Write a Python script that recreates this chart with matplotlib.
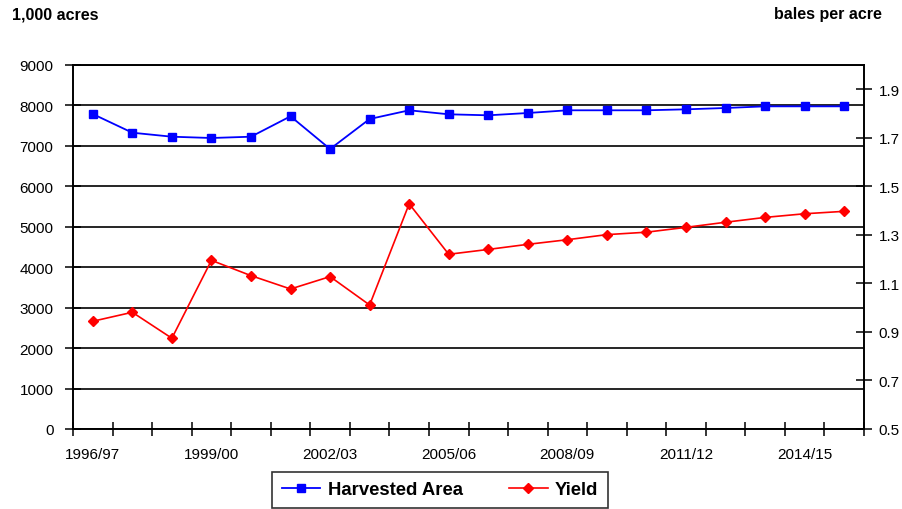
import matplotlib
matplotlib.use("Agg")
import matplotlib.pyplot as plt
import numpy as np

plt.rcParams['font.family'] = ['Liberation Sans', 'DejaVu Sans']

seasons = ["1996/97", "1997/98", "1998/99", "1999/00", "2000/01", "2001/02",
           "2002/03", "2003/04", "2004/05", "2005/06", "2006/07", "2007/08",
           "2008/09", "2009/10", "2010/11", "2011/12", "2012/13", "2013/14",
           "2014/15", "2015/16"]

# Harvested area, 1,000 acres
harvested_area = [7788, 7326, 7227, 7195, 7227, 7732, 6923, 7665, 7880, 7781,
                  7756, 7813, 7880, 7880, 7880, 7904, 7937, 7978, 7978, 7978]

# Yield, bales per acre
yield_bpa = [0.944, 0.981, 0.874, 1.195, 1.132, 1.077, 1.128, 1.011, 1.428, 1.220,
             1.240, 1.261, 1.280, 1.301, 1.311, 1.331, 1.352, 1.372, 1.387, 1.397]

labelled_seasons = ["1996/97", "1999/00", "2002/03", "2005/06", "2008/09",
                    "2011/12", "2014/15"]

fig = plt.figure(figsize=(9.03, 5.10), dpi=100)
ax = fig.add_axes([73 / 903, 80 / 510, (864 - 73) / 903, (430 - 66) / 510])
ax2 = ax.twinx()

x = np.arange(len(seasons))

# gridlines on the left scale
ax.set_ylim(0, 9000)
ax.set_yticks(np.arange(0, 9001, 1000))
ax.yaxis.grid(True, color='black', linewidth=1.2)
ax.set_axisbelow(True)

ax.set_xlim(-0.5, len(seasons) - 0.5)
# category boundary ticks
ax.set_xticks(np.arange(-0.5, len(seasons), 1.0), minor=True)
ax.tick_params(axis='x', which='minor', direction='inout', length=10, width=1.1)
# season labels at category centres
label_pos = [seasons.index(s) for s in labelled_seasons]
ax.set_xticks(label_pos)
ax.set_xticklabels(labelled_seasons)
ax.tick_params(axis='x', which='major', length=0, pad=13, labelsize=11)
ax.tick_params(axis='y', direction='inout', length=12, width=1.1, pad=8, labelsize=11)

ax2.set_ylim(0.5, 2.0)
ax2.set_yticks(np.arange(0.5, 1.91, 0.2))
ax2.set_yticklabels([f"{v:.1f}" for v in np.arange(0.5, 1.91, 0.2)])
ax2.tick_params(axis='y', direction='inout', length=12, width=1.1, pad=4.5, labelsize=11)

for a in (ax, ax2):
    for sp in a.spines.values():
        sp.set_color('black')
        sp.set_linewidth(1.2)

l1, = ax.plot(x, harvested_area, color='#0000FF', linewidth=1.3, marker='s',
              markersize=6, label='Harvested Area', zorder=3)
l2, = ax2.plot(x, yield_bpa, color='#FF0000', linewidth=1.2, marker='D',
               markersize=5.5, label='Yield', zorder=3)

fig.text(12 / 903, 1 - 15 / 510, "1,000 acres", fontsize=11.5, fontweight='bold',
         ha='left', va='center')
fig.text(882 / 903, 1 - 15 / 510, "bales per acre", fontsize=11.5, fontweight='bold',
         ha='right', va='center')

leg = fig.legend([l1, l2], ["Harvested Area", "Yield"], loc='center',
                 bbox_to_anchor=(440 / 903, 1 - 491 / 510), ncol=2,
                 frameon=True, fancybox=False, shadow=False, handlelength=2.1,
                 handletextpad=0.4, columnspacing=2.5, borderpad=0.5,
                 borderaxespad=0.0, prop={'size': 13.3, 'weight': 'bold'})
leg.get_frame().set_edgecolor('black')
leg.get_frame().set_linewidth(1.2)

fig.savefig("out.png", dpi=100)
